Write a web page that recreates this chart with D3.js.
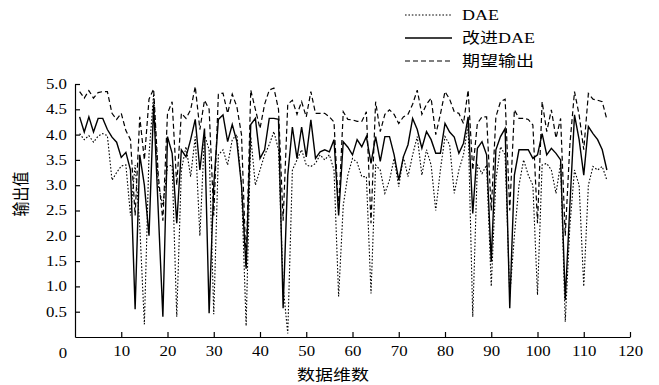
<!DOCTYPE html>
<html>
<head>
<meta charset="utf-8">
<script src="https://cdn.jsdelivr.net/npm/d3@7"></script>
<style>
  body { margin: 0; background: #fff; }
  text { font-family: "Liberation Serif", "Noto Sans CJK SC", serif; fill: #000; }
  .sxl { transform-box: fill-box; transform-origin: 0% 50%; transform: scaleX(1.2); }
  .sxr { transform-box: fill-box; transform-origin: 100% 50%; transform: scaleX(1.2); }
  .sxc { transform-box: fill-box; transform-origin: 50% 50%; transform: scaleX(1.2); }
</style>
</head>
<body>
<div id="chart"></div>
<script>
// values, one per data dimension (1..115)
const dae = [4.02,3.90,3.98,3.85,3.97,4.02,3.98,3.10,3.25,3.38,3.40,2.40,3.40,2.20,0.25,3.60,4.80,3.00,2.60,3.37,
  3.40,0.40,3.30,3.76,3.17,3.96,2.00,4.00,3.70,0.45,3.60,3.70,3.40,3.90,4.00,3.00,0.22,3.96,3.00,3.30,
  3.60,3.80,4.06,3.70,1.00,0.07,3.30,3.50,3.70,3.40,3.37,3.43,3.60,3.50,3.60,3.30,0.80,2.60,3.20,3.53,
  3.45,3.17,3.17,0.86,3.40,3.30,2.84,3.10,3.53,2.97,3.56,3.17,3.60,3.96,3.20,3.70,3.40,2.50,3.30,3.96,
  3.80,2.84,3.30,3.60,4.20,0.40,3.40,3.23,3.40,1.00,3.10,3.76,3.60,0.80,2.00,3.00,3.50,3.20,3.00,0.83,
  3.40,3.43,3.30,2.84,3.43,0.30,2.20,3.30,3.00,1.00,3.00,3.37,3.30,3.37,3.10];

const improved = [4.35,4.05,4.35,4.05,4.32,4.32,4.10,3.95,3.85,3.55,3.65,3.30,0.55,3.60,3.00,2.00,4.60,2.50,0.40,3.96,
  3.63,2.25,3.70,3.56,3.90,4.30,3.30,4.12,0.47,3.00,4.30,4.39,3.86,4.20,3.86,3.00,1.35,4.20,4.32,3.53,
  3.70,4.32,4.32,4.30,0.57,3.20,4.15,3.53,4.15,3.56,4.29,3.53,3.66,3.70,3.66,3.90,2.40,3.86,3.75,3.60,
  3.90,3.76,3.96,3.43,3.96,3.47,3.96,3.96,3.60,3.10,3.56,3.80,4.32,4.10,3.73,4.06,3.90,3.63,3.63,4.22,
  4.05,3.95,3.63,3.83,4.35,2.44,3.73,3.86,3.60,1.49,3.70,3.96,4.12,0.57,3.20,3.70,3.70,3.70,3.53,3.60,
  4.02,3.60,3.73,3.63,3.50,0.73,2.60,4.39,3.90,3.20,4.16,4.02,3.90,3.70,3.30];

const expected = [4.85,4.72,4.87,4.72,4.83,4.85,4.85,4.42,4.30,4.42,4.08,3.90,2.40,4.35,3.50,4.70,4.90,3.20,2.30,4.42,
  4.65,3.00,4.42,4.32,4.49,4.95,4.10,4.68,4.50,2.40,4.80,4.82,4.42,4.80,4.55,4.00,1.40,4.88,4.50,4.12,
  4.60,4.88,4.92,4.50,2.30,4.60,4.68,4.40,4.65,4.35,4.85,4.42,4.42,4.42,4.35,4.25,2.50,4.45,4.30,4.29,
  4.26,4.26,4.45,2.25,4.65,4.06,4.40,4.49,4.40,4.22,4.35,4.40,4.60,4.88,4.40,4.60,4.72,4.00,4.40,4.85,
  4.70,4.45,4.42,4.22,4.88,3.30,4.22,4.35,4.35,2.50,4.35,4.65,4.70,2.50,4.49,4.32,4.32,4.30,4.19,2.25,
  4.65,4.06,4.49,3.93,4.32,2.00,3.80,4.85,4.39,3.70,4.81,4.70,4.68,4.65,4.30];

const xTicks = [10, 20, 30, 40, 50, 60, 70, 80, 90, 100, 110, 120];
const yTicks = [0.5, 1.0, 1.5, 2.0, 2.5, 3.0, 3.5, 4.0, 4.5, 5.0];
const seriesNames = ["DAE", "改进DAE", "期望输出"];
const xTitle = "数据维数";
const yTitle = "输出值";

const width = 659, height = 385;
const margin = { top: 84, right: 29, bottom: 48, left: 75 };

const svg = d3.select("#chart")
  .append("svg")
    .attr("width", width)
    .attr("height", height);

const x = d3.scaleLinear().domain([0, 120]).range([margin.left, width - margin.right]);
const y = d3.scaleLinear().domain([0, 5]).range([height - margin.bottom, margin.top]);

// axes, ticks point inward
const xAxis = svg.append("g")
  .attr("transform", `translate(0,${height - margin.bottom})`)
  .call(d3.axisBottom(x).tickValues(xTicks).tickSizeInner(-5).tickSizeOuter(0).tickPadding(9));
const yAxis = svg.append("g")
  .attr("transform", `translate(${margin.left},0)`)
  .call(d3.axisLeft(y).tickValues(yTicks).tickFormat(d3.format(".1f")).tickSizeInner(-5).tickSizeOuter(0).tickPadding(8));

[xAxis, yAxis].forEach(g => {
  g.attr("font-family", null).attr("font-size", null);
  g.select(".domain").attr("stroke", "#000").attr("stroke-width", 1.2);
  g.selectAll(".tick line").attr("stroke", "#000").attr("stroke-width", 1.2);
  g.selectAll(".tick text").style("font-size", "14px");
});
xAxis.selectAll(".tick text").attr("class", "sxc");
yAxis.selectAll(".tick text").attr("class", "sxr");

// shared origin label
svg.append("text")
  .attr("class", "sxc")
  .attr("x", 63)
  .attr("y", 358)
  .attr("text-anchor", "middle")
  .style("font-size", "14px")
  .text("0");

// axis titles
svg.append("text")
  .attr("class", "sxc")
  .attr("x", 333)
  .attr("y", 380)
  .attr("text-anchor", "middle")
  .style("font-size", "15px")
  .text(xTitle);

svg.append("text")
  .attr("transform", "translate(27,194) rotate(-90) scale(1,1.15)")
  .attr("text-anchor", "middle")
  .style("font-size", "15px")
  .text(yTitle);

// lines
const data = [dae, improved, expected];
const styles = [
  { dash: "1.6,1.8", w: 1.1 },
  { dash: null, w: 1.4 },
  { dash: "5,3", w: 1.2 }
];

const line = d3.line()
  .x((d, i) => x(i + 1))
  .y(d => y(d));

data.forEach((s, k) => {
  svg.append("path")
    .datum(s)
    .attr("fill", "none")
    .attr("stroke", "#000")
    .attr("stroke-width", styles[k].w)
    .attr("stroke-dasharray", styles[k].dash)
    .attr("stroke-linejoin", "miter")
    .attr("d", line);
});

// legend
const legendY = [15, 38, 61];
const legend = svg.append("g");
seriesNames.forEach((name, k) => {
  legend.append("line")
    .attr("x1", 405).attr("x2", 452)
    .attr("y1", legendY[k]).attr("y2", legendY[k])
    .attr("stroke", "#000")
    .attr("stroke-width", styles[k].w)
    .attr("stroke-dasharray", styles[k].dash);
  legend.append("text")
    .attr("class", "sxl")
    .attr("x", 462)
    .attr("y", legendY[k] + 5)
    .style("font-size", "15px")
    .text(name);
});
</script>
</body>
</html>
